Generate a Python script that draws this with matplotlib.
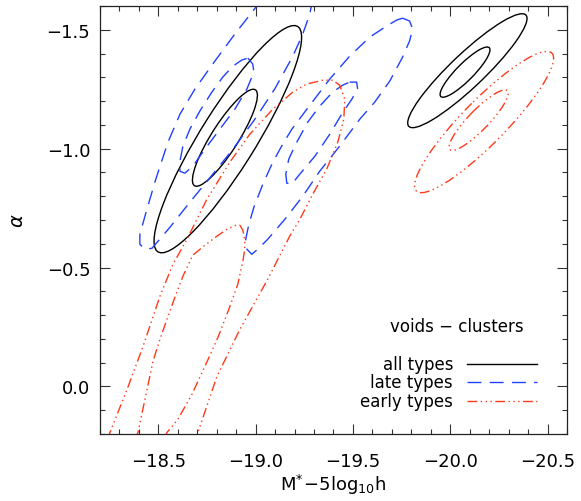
import matplotlib
matplotlib.use('Agg')
import matplotlib.pyplot as plt
from matplotlib.patches import Ellipse
from matplotlib.lines import Line2D
from matplotlib.ticker import MultipleLocator, FuncFormatter

plt.rcParams['lines.scale_dashes'] = False
plt.rcParams['mathtext.fontset'] = 'dejavusans'

# ellipse-like contours: centre M*, centre alpha, full width, full height, tilt (data units)
all_voids = [(-18.857, -1.040, 1.190, 0.270, 52.3),
             (-18.842, -1.046, 0.511, 0.130, 51.5)]
all_clusters = [(-20.088, -1.328, 0.763, 0.154, 37.4),
                (-20.076, -1.322, 0.323, 0.078, 38.8)]
early_clusters = [(-20.174, -1.112, 0.907, 0.202, 39.2),
                  (-20.146, -1.120, 0.385, 0.092, 39.4)]

# irregular contours
late_voids_outer_m = [-19.026, -19.006, -18.893, -18.790, -18.688, -18.611, -18.549, -18.487, -18.441,
                      -18.405, -18.405, -18.431, -18.467, -18.559, -18.662, -18.775, -18.883, -18.996,
                      -19.098, -19.191, -19.242, -19.278, -19.293]
late_voids_outer_a = [-1.629, -1.600, -1.482, -1.368, -1.251, -1.145, -1.027, -0.872, -0.745,
                      -0.640, -0.598, -0.577, -0.581, -0.669, -0.775, -0.888, -0.998, -1.124,
                      -1.251, -1.389, -1.482, -1.566, -1.629]

late_voids_inner_m = [-18.960, -18.985, -18.991, -18.955, -18.893, -18.816, -18.739, -18.677, -18.636,
                      -18.611, -18.611, -18.626, -18.662, -18.713, -18.775, -18.831, -18.883, -18.929,
                      -18.960]
late_voids_inner_a = [-1.381, -1.356, -1.322, -1.251, -1.166, -1.082, -0.998, -0.926, -0.897,
                      -0.905, -0.947, -1.011, -1.082, -1.158, -1.238, -1.301, -1.347, -1.373,
                      -1.381]

late_clusters_outer_m = [-19.755, -19.791, -19.807, -19.791, -19.755, -19.689, -19.612, -19.535, -19.432,
                         -19.329, -19.242, -19.150, -19.062, -19.011, -18.980, -18.955, -18.949, -18.965,
                         -18.991, -19.037, -19.088, -19.139, -19.186, -19.263, -19.381, -19.483, -19.586,
                         -19.673, -19.725, -19.755]
late_clusters_outer_a = [-1.549, -1.537, -1.503, -1.453, -1.385, -1.284, -1.196, -1.124, -1.011,
                         -0.905, -0.800, -0.703, -0.619, -0.577, -0.556, -0.577, -0.619, -0.682,
                         -0.754, -0.851, -0.943, -1.019, -1.082, -1.166, -1.293, -1.389, -1.469,
                         -1.516, -1.541, -1.549]

late_clusters_inner_m = [-19.483, -19.519, -19.524, -19.494, -19.442, -19.381, -19.304, -19.227, -19.186,
                         -19.160, -19.155, -19.170, -19.211, -19.268, -19.329, -19.396, -19.447, -19.483]
late_clusters_inner_a = [-1.280, -1.280, -1.251, -1.208, -1.145, -1.061, -0.968, -0.893, -0.851,
                         -0.855, -0.893, -0.956, -1.027, -1.112, -1.179, -1.238, -1.267, -1.280]

early_voids_outer_m = [-18.241, -18.251, -18.339, -18.421, -18.508, -18.575, -18.647, -18.749, -18.867,
                       -18.970, -19.088, -19.191, -19.263, -19.345, -19.396, -19.432, -19.458, -19.453,
                       -19.422, -19.365, -19.293, -19.227, -19.175, -19.062, -18.919, -18.801, -18.703,
                       -18.688]
early_voids_outer_a = [0.223, 0.194, 0.013, -0.168, -0.379, -0.514, -0.619, -0.787, -0.943,
                       -1.061, -1.166, -1.238, -1.272, -1.288, -1.288, -1.267, -1.208, -1.124,
                       -1.027, -0.914, -0.808, -0.703, -0.632, -0.451, -0.240, -0.042, 0.194,
                       0.223]

early_voids_inner_m = [-18.380, -18.395, -18.431, -18.472, -18.508, -18.544, -18.585, -18.626, -18.677,
                       -18.739, -18.801, -18.852, -18.898, -18.919, -18.934, -18.944, -18.944, -18.934,
                       -18.908, -18.862, -18.806, -18.744, -18.672, -18.600, -18.544, -18.529]
early_voids_inner_a = [0.223, 0.194, 0.055, -0.105, -0.198, -0.282, -0.375, -0.463, -0.552,
                       -0.594, -0.632, -0.661, -0.678, -0.678, -0.657, -0.619, -0.577, -0.526,
                       -0.429, -0.324, -0.206, -0.093, 0.034, 0.139, 0.194, 0.223]

legend_labels = ['all types', 'late types', 'early types']

black = 'black'
blue = '#2040ff'
red = '#ff3a1a'
solid = '-'
dashed = (0, (10, 6))
dash3dot = (0, (7, 2.5, 1, 2.5, 1, 2.5, 1, 2.5))

fig = plt.figure(figsize=(5.81, 5.02), dpi=100)
ax = fig.add_axes([0.1721, 0.1335, 0.8038, 0.8525])

for group, col, ls in [(all_voids, black, solid), (all_clusters, black, solid),
                       (early_clusters, red, dash3dot)]:
    for cx, cy, w, h, ang in group:
        ax.add_patch(Ellipse((cx, cy), w, h, angle=ang, fill=False,
                             edgecolor=col, linestyle=ls, lw=1.0))

ax.plot(late_voids_outer_m, late_voids_outer_a, color=blue, ls=dashed, lw=1.0)
ax.plot(late_voids_inner_m, late_voids_inner_a, color=blue, ls=dashed, lw=1.0)
ax.plot(late_clusters_outer_m, late_clusters_outer_a, color=blue, ls=dashed, lw=1.0)
ax.plot(late_clusters_inner_m, late_clusters_inner_a, color=blue, ls=dashed, lw=1.0)
ax.plot(early_voids_outer_m, early_voids_outer_a, color=red, ls=dash3dot, lw=1.0)
ax.plot(early_voids_inner_m, early_voids_inner_a, color=red, ls=dash3dot, lw=1.0)

ax.set_xlim(-18.2, -20.6)
ax.set_ylim(0.2, -1.6)

fmt = FuncFormatter(lambda v, p: f'{v:.1f}'.replace('-', '\u2212'))
ax.xaxis.set_major_locator(MultipleLocator(0.5))
ax.xaxis.set_minor_locator(MultipleLocator(0.1))
ax.yaxis.set_major_locator(MultipleLocator(0.5))
ax.yaxis.set_minor_locator(MultipleLocator(0.1))
ax.xaxis.set_major_formatter(fmt)
ax.yaxis.set_major_formatter(fmt)
ax.tick_params(which='both', direction='in', top=True, right=True, width=0.8, color='#333333')
ax.tick_params(which='major', length=7.5, labelsize=13, pad=7)
ax.tick_params(which='minor', length=3.5)
ax.tick_params(axis='x', which='major', pad=13)
for s in ax.spines.values():
    s.set_linewidth(0.9)
    s.set_color('#222222')

ax.set_xlabel(r'$\mathregular{M^{*}\!-\!5log_{10}h}$', fontsize=13, labelpad=1)
ax.set_ylabel(r'$\alpha$', fontsize=14, labelpad=14)

# key in the lower right
ax.text(0.764, 0.252, 'voids \u2212 clusters', transform=ax.transAxes,
        ha='center', va='center', fontsize=12)
rows = [0.1636, 0.1215, 0.077]
for lab, row, col, ls in zip(legend_labels, rows, [black, blue, red], [solid, dashed, dash3dot]):
    ax.text(0.756, row, lab, transform=ax.transAxes, ha='right', va='center', fontsize=12)
    ax.add_line(Line2D([0.786, 0.936], [row, row], transform=ax.transAxes,
                       color=col, ls=ls, lw=1.0))

fig.savefig('out.png', dpi=100)
